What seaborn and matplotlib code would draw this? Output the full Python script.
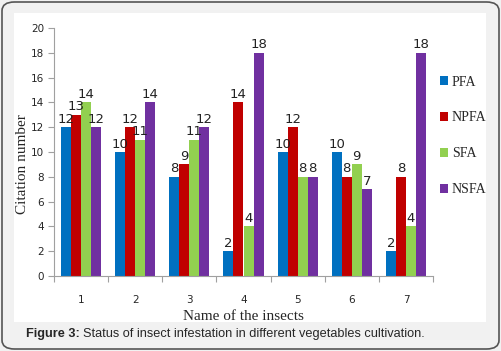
import numpy as np
import pandas as pd
import seaborn as sns
import matplotlib.pyplot as plt
from matplotlib.patches import FancyBboxPatch, Rectangle

insects = ['1', '2', '3', '4', '5', '6', '7']
pfa = [12, 10, 8, 2, 10, 10, 2]
npfa = [13, 12, 9, 14, 12, 8, 8]
sfa = [14, 11, 11, 4, 8, 9, 4]
nsfa = [12, 14, 12, 18, 8, 7, 18]
series = ['PFA', 'NPFA', 'SFA', 'NSFA']
colors = ['#0070c0', '#c00000', '#92d050', '#7030a0']

df = pd.DataFrame({'insect': insects * 4,
                   'group': np.repeat(series, len(insects)),
                   'value': pfa + npfa + sfa + nsfa})

sns.set_style('white')
W, H = 501, 351
fig = plt.figure(figsize=(W / 100, H / 100), dpi=100)
fig.patch.set_facecolor('#f1f1f1')

# outer rounded frame and inner white panel
fig.patches.append(FancyBboxPatch((2 / W, 2 / H), (W - 4) / W, (H - 4) / H,
                                  boxstyle='round,pad=0,rounding_size=0.025',
                                  transform=fig.transFigure, facecolor='#f1f1f1',
                                  edgecolor='#555555', linewidth=1.2, zorder=-2))
fig.patches.append(Rectangle((14 / W, 1 - 322 / H), (486 - 14) / W, (322 - 13) / H,
                             transform=fig.transFigure, facecolor='white',
                             edgecolor='none', zorder=-1))

ax = fig.add_axes([54 / W, 1 - 276 / H, (433 - 54) / W, (276 - 28) / H])
ax.set_facecolor('none')
sns.barplot(data=df, x='insect', y='value', hue='group', palette=colors,
            saturation=1, width=0.74, gap=0, linewidth=0, ax=ax, legend=True)

for c in ax.containers:
    ax.bar_label(c, fontsize=9.5, color='#222222', padding=1,
                 family='DejaVu Sans')

ax.set_ylim(0, 20)
ax.set_yticks(range(0, 21, 2))
ax.set_xlim(-0.5, 6.5)
ax.set_xticks(np.arange(-0.5, 7, 1))
ax.set_xticklabels([])
ax.set_xticks(range(7), minor=True)
ax.set_xticklabels(insects, minor=True)
ax.tick_params(axis='x', which='major', length=4, color='#a0a0a0', bottom=True)
ax.tick_params(axis='x', which='minor', length=0, labelsize=7.5, pad=14)
ax.tick_params(axis='y', length=4, color='#a0a0a0', left=True, labelsize=7.5, pad=3)
for s in ['top', 'right']:
    ax.spines[s].set_visible(False)
for s in ['left', 'bottom']:
    ax.spines[s].set_color('#a0a0a0')
    ax.spines[s].set_linewidth(0.8)

ax.set_xlabel('Name of the insects', family='Liberation Serif', fontsize=11, labelpad=3)
ax.set_ylabel('Citation number', family='Liberation Serif', fontsize=11)
ax.yaxis.set_label_coords(-0.066, 0.45)

handles, labels = ax.get_legend_handles_labels()
ax.legend_.remove()
fig.legend(handles, labels, loc='upper left', bbox_to_anchor=(427 / W, 1 - 63 / H),
           frameon=False, prop={'family': 'Liberation Serif', 'size': 10},
           handlelength=0.6, handleheight=0.6, handletextpad=0.3, labelspacing=1.65)

t1 = fig.text(26 / W, 1 - 334 / H, 'Figure 3:', family='Liberation Sans',
              fontweight='bold', fontsize=9.2, va='center')
fig.canvas.draw()
bb = t1.get_window_extent()
fig.text(bb.x1 / W + 3 / W, 1 - 334 / H,
         'Status of insect infestation in different vegetables cultivation.',
         family='Liberation Sans', fontsize=9.2, va='center')

fig.savefig('out.png', dpi=100)
